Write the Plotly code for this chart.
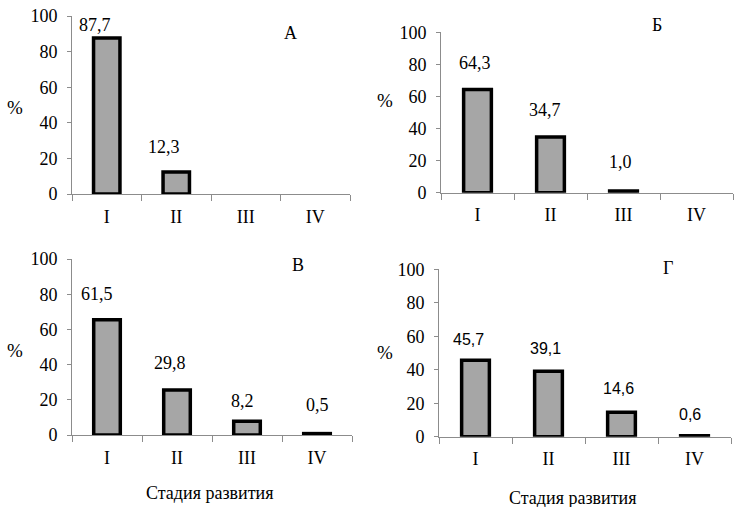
import plotly.graph_objects as go

W, H = 734, 507

stages = ["I", "II", "III", "IV"]

# Bar heights as drawn, and printed labels, per panel
vals_a = [87.7, 12.3, 0, 0]
labs_a = ["87,7", "12,3", "", ""]
vals_b = [64.3, 34.7, 1.0, 0]
labs_b = ["64,3", "34,7", "1,0", ""]
vals_v = [65.5, 25.5, 7.8, 0.8]
labs_v = ["61,5", "29,8", "8,2", "0,5"]
vals_g = [45.7, 39.1, 14.6, 0.6]
labs_g = ["45,7", "39,1", "14,6", "0,6"]

panel_letters = ["А", "Б", "В", "Г"]
y_ticks = [0, 20, 40, 60, 80, 100]
x_title = "Стадия развития"
y_title = "%"

def px(x):
    return x / W

def py(y):
    return 1 - y / H

# layout geometry (pixels): x0, x1, ybottom, ytop
geo = [
    (72, 350, 194, 16),
    (441, 733, 192.7, 32.3),
    (72, 352, 435, 259),
    (439, 731, 436.7, 269.3),
]
letter_pos = [(290, 33), (657, 25), (298, 265), (668, 268)]
pct_pos = [(15, 108), (385, 100), (15, 350), (385, 352)]
lab_shift = [
    [(-12, 13), (-12, 25)],
    [(-3, 27), (-6, 27), (-3, 29)],
    [(-10, 26), (-7, 27), (-5, 20), (0, 29)],
    [(-7, 21), (-3, 23), (-3, 24), (-5, 21)],
]
lab_font = ["Liberation Serif", "Liberation Serif", "Liberation Serif", "Liberation Sans"]
lab_size = [18, 18, 18, 16]

panels = [(vals_a, labs_a), (vals_b, labs_b), (vals_v, labs_v), (vals_g, labs_g)]

fig = go.Figure()
annotations = []
layout = {}
axis_color = "#8c8c8c"
serif = "Liberation Serif"
txt = "#000000"

for i, (vals, labs) in enumerate(panels):
    n = i + 1
    xa = "x" if n == 1 else f"x{n}"
    ya = "y" if n == 1 else f"y{n}"
    fig.add_trace(go.Bar(
        x=stages, y=vals, xaxis=xa, yaxis=ya, width=0.38,
        marker=dict(color="#a6a6a6",
                    line=dict(color="#000000", width=[3.5 if v > 0 else 0 for v in vals])),
        showlegend=False, hoverinfo="skip",
    ))
    x0, x1, yb, yt = geo[i]
    layout["xaxis" if n == 1 else f"xaxis{n}"] = dict(
        domain=[px(x0), px(x1)], anchor=ya, type="category", automargin=False,
        range=[-0.5, 3.5], showgrid=False, zeroline=False,
        showline=True, linecolor=axis_color, linewidth=1,
        ticks="outside", tickson="boundaries", ticklen=6, tickcolor=axis_color,
        tickfont=dict(family=serif, size=18, color=txt),
        ticklabelstandoff=6, fixedrange=True,
    )
    layout["yaxis" if n == 1 else f"yaxis{n}"] = dict(
        domain=[py(yb), py(yt)], anchor=xa, range=[0, 100], automargin=False,
        tickvals=y_ticks, showgrid=False, zeroline=False,
        showline=True, linecolor=axis_color, linewidth=1,
        ticks="outside", ticklen=4, tickcolor=axis_color,
        tickfont=dict(family=serif, size=18, color=txt),
        ticklabelstandoff=6, fixedrange=True,
    )
    for j, t in enumerate(labs):
        if not t:
            continue
        dx, dy = lab_shift[i][j]
        annotations.append(dict(
            x=stages[j], y=vals[j], xref=xa, yref=ya, text=t, showarrow=False,
            xshift=dx, yshift=dy, xanchor="center", yanchor="middle",
            font=dict(family=lab_font[i], size=lab_size[i], color=txt),
        ))
    lx, ly = letter_pos[i]
    annotations.append(dict(
        x=px(lx), y=py(ly), xref="paper", yref="paper", text=panel_letters[i],
        xanchor="center", yanchor="middle",
        showarrow=False, font=dict(family=serif, size=18, color=txt),
    ))
    qx, qy = pct_pos[i]
    annotations.append(dict(
        x=px(qx), y=py(qy), xref="paper", yref="paper", text=y_title,
        xanchor="center", yanchor="middle",
        showarrow=False, font=dict(family=serif, size=19, color=txt),
    ))

for (tx, ty) in [(209, 493), (572, 498)]:
    annotations.append(dict(
        x=px(tx), y=py(ty), xref="paper", yref="paper", text=x_title,
        xanchor="center", yanchor="middle",
        showarrow=False, font=dict(family=serif, size=18, color=txt),
    ))

fig.update_layout(
    template="none",
    width=W, height=H, margin=dict(l=0, r=0, t=0, b=0, autoexpand=False),
    paper_bgcolor="white", plot_bgcolor="white",
    annotations=annotations, bargap=0.6, **layout,
)

fig.write_html(
    "out.html", include_plotlyjs=True, config={"displayModeBar": False},
    post_script="document.body.style.margin='0px';",
)
